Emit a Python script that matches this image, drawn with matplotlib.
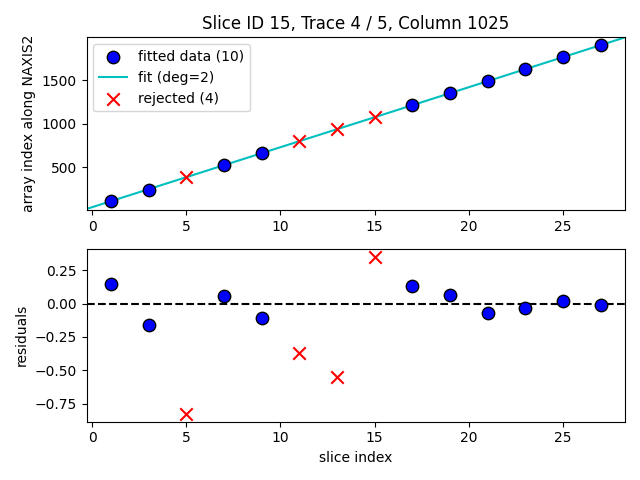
import numpy as np
import matplotlib
matplotlib.use('Agg')
from matplotlib import pyplot as plt

# slice indices and positions along NAXIS2
slices = [1, 3, 5, 7, 9, 11, 13, 15, 17, 19, 21, 23, 25, 27]
positions = [113, 246, 386, 523, 663, 800, 937, 1074, 1219, 1352, 1492, 1632, 1769, 1902]
residuals = [0.145, -0.161, -0.825, 0.057, -0.108, -0.373, -0.552, 0.35,
             0.134, 0.063, -0.074, -0.030, 0.020, -0.010]
rejected = [False, False, True, False, False, True, True, True,
            False, False, False, False, False, False]
fit_coeffs = [0.005, 68.7, 44.5]  # deg=2, highest power first

x = np.array(slices)
y = np.array(positions)
res = np.array(residuals)
bad = np.array(rejected)
good = ~bad

fig, (ax1, ax2) = plt.subplots(2, 1, figsize=(6.4, 4.8), dpi=100)

ax1.scatter(x[good], y[good], s=80, c='b', edgecolors='k', zorder=3,
            label='fitted data (%d)' % good.sum())
xlim = (-0.3, 28.3)
xx = np.linspace(xlim[0], xlim[1], 200)
ax1.plot(xx, np.polyval(fit_coeffs, xx), 'c-', label='fit (deg=2)')
ax1.scatter(x[bad], y[bad], s=80, c='r', marker='x', zorder=3,
            label='rejected (%d)' % bad.sum())
ax1.set_xlim(xlim)
ax1.set_ylim(10, 1993)
ax1.set_ylabel('array index along NAXIS2')
ax1.set_title('Slice ID 15, Trace 4 / 5, Column 1025')
ax1.legend(loc='upper left')

ax2.scatter(x[good], res[good], s=80, c='b', edgecolors='k', zorder=3)
ax2.scatter(x[bad], res[bad], s=80, c='r', marker='x', zorder=3)
ax2.axhline(0, color='k', ls='--')
ax2.set_xlim(xlim)
ax2.set_xlabel('slice index')
ax2.set_ylabel('residuals')

fig.tight_layout()
fig.savefig('out.png')
